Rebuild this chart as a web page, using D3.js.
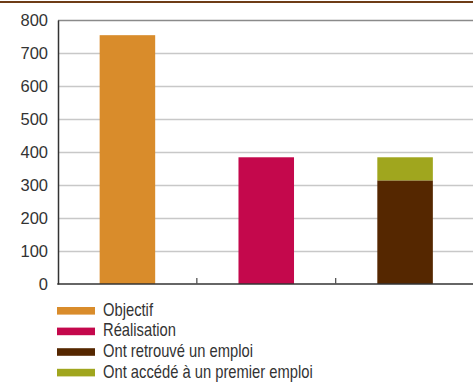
<!DOCTYPE html>
<html>
<head>
<meta charset="utf-8">
<script src="https://cdn.jsdelivr.net/npm/d3@7"></script>
<style>
  html, body { margin: 0; padding: 0; background: #fff; }
  svg { display: block; }
</style>
</head>
<body>
<svg id="chart" width="473" height="382"></svg>
<script>
// Bar categories and values
const categories = ["Objectif", "Réalisation", "Emploi"];
const objectif = [754, 0, 0];
const realisation = [0, 384, 0];
const retrouve = [0, 0, 314];
const premier = [0, 0, 70];
const yTicks = [0, 100, 200, 300, 400, 500, 600, 700, 800];

const legendLabels = ["Objectif", "Réalisation", "Ont retrouvé un emploi", "Ont accédé à un premier emploi"];
const colors = ["#D98C2B", "#C4084C", "#552700", "#A0A61E"];

const svg = d3.select("#chart");
const W = 473;

// top rule
svg.append("rect").attr("x", 0).attr("y", 1).attr("width", W).attr("height", 2).attr("fill", "#6e3c17");

const plotLeft = 58, plotTop = 20, plotBottom = 284;
const x = d3.scaleBand().domain(categories).range([plotLeft, 474.5]).paddingInner(0.6).paddingOuter(0.3);
const xb = d3.scaleBand().domain(categories).range([plotLeft, 474.5]).padding(0);
const y = d3.scaleLinear().domain([0, 800]).range([plotBottom, plotTop]);

// grid lines
svg.append("g").selectAll("line").data(yTicks.filter(d => d > 0)).join("line")
  .attr("x1", plotLeft).attr("x2", W)
  .attr("y1", d => y(d) + 0.5).attr("y2", d => y(d) + 0.5)
  .attr("stroke", d => d === 800 ? "#8a8a8a" : "#c8c8c8")
  .attr("stroke-width", d => d === 800 ? 1.5 : 1.3);

// series stacked per category
const series = [objectif, realisation, retrouve, premier];
const stackData = categories.map((c, i) => {
  const o = { cat: c };
  series.forEach((s, k) => o["s" + k] = s[i]);
  return o;
});
const stacked = d3.stack().keys(series.map((s, k) => "s" + k))(stackData);

svg.append("g").selectAll("g").data(stacked).join("g")
  .attr("fill", (d, k) => colors[k])
  .selectAll("rect").data(d => d.filter(p => p[1] - p[0] > 0)).join("rect")
  .attr("x", p => x(p.data.cat))
  .attr("width", x.bandwidth())
  .attr("y", p => y(p[1]))
  .attr("height", p => y(p[0]) - y(p[1]));

// y axis
const yAxis = svg.append("g").attr("transform", `translate(${plotLeft},0)`)
  .call(d3.axisLeft(y).tickValues(yTicks).tickSize(0).tickPadding(10));
yAxis.select(".domain").attr("stroke", "#333").attr("stroke-width", 1.5);
yAxis.selectAll("text").attr("font-family", "Liberation Sans, Arial, sans-serif")
  .attr("font-size", 16.5).attr("fill", "#333");

// x axis with separator ticks between bands
const xAxisG = svg.append("g");
xAxisG.append("line").attr("x1", plotLeft - 0.75).attr("x2", W).attr("y1", plotBottom).attr("y2", plotBottom)
  .attr("stroke", "#333").attr("stroke-width", 1.5);
xAxisG.selectAll("line.sep").data(categories.slice(1)).join("line").attr("class", "sep")
  .attr("x1", d => xb(d)).attr("x2", d => xb(d))
  .attr("y1", plotBottom).attr("y2", plotBottom - 6)
  .attr("stroke", "#555").attr("stroke-width", 1.3);

// legend (condensed labels)
const lg = svg.append("g").attr("transform", "translate(57,307)");
const rows = lg.selectAll("g").data(legendLabels).join("g")
  .attr("transform", (d, i) => `translate(0,${i * 20.6})`);
rows.append("rect").attr("width", 38).attr("height", 7.6).attr("fill", (d, i) => colors[i]);
rows.append("text")
  .attr("transform", "translate(46,8.8) scale(0.82,1)")
  .attr("font-family", "Liberation Sans, Arial, sans-serif")
  .attr("font-size", 18).attr("fill", "#333").text(d => d);
</script>
</body>
</html>
